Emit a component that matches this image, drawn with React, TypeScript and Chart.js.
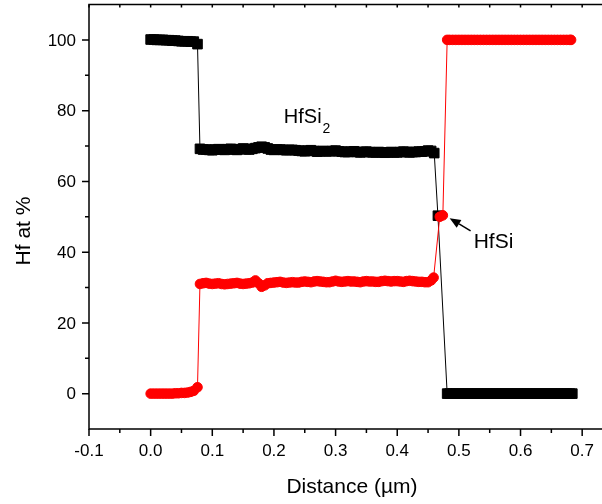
import React, { useEffect, useRef } from 'react';
import { Chart, registerables } from 'chart.js';

Chart.register(...registerables);

// ---- Data ----
// Black series (squares)
const blackDistance = [
  0, 0.005, 0.01, 0.015, 0.02, 0.025, 0.03, 0.035, 0.04, 0.045, 0.05, 0.055, 0.06, 0.065, 0.07, 0.076,
  0.08, 0.085, 0.09, 0.095, 0.1, 0.105, 0.11, 0.115, 0.12, 0.125, 0.13, 0.135, 0.14, 0.145,
  0.15, 0.155, 0.16, 0.165, 0.17, 0.175, 0.18, 0.185, 0.19, 0.195,
  0.2, 0.205, 0.21, 0.215, 0.22, 0.225, 0.23, 0.235, 0.24, 0.245,
  0.25, 0.255, 0.26, 0.265, 0.27, 0.275, 0.28, 0.285, 0.29, 0.295,
  0.3, 0.305, 0.31, 0.315, 0.32, 0.325, 0.33, 0.335, 0.34, 0.345,
  0.35, 0.355, 0.36, 0.365, 0.37, 0.375, 0.38, 0.385, 0.39, 0.395,
  0.4, 0.405, 0.41, 0.415, 0.42, 0.425, 0.43, 0.435, 0.44, 0.445,
  0.45, 0.455, 0.46,
  0.466,
  0.481, 0.485, 0.49, 0.495, 0.5, 0.505, 0.51, 0.515, 0.52, 0.525, 0.53, 0.535, 0.54, 0.545,
  0.55, 0.555, 0.56, 0.565, 0.57, 0.575, 0.58, 0.585, 0.59, 0.595,
  0.6, 0.605, 0.61, 0.615, 0.62, 0.625, 0.63, 0.635, 0.64, 0.645,
  0.65, 0.655, 0.66, 0.665, 0.67, 0.675, 0.68, 0.684,
];
const blackHf = [
  100.1, 100.1, 100, 100, 100, 99.9, 99.9, 99.8, 99.8, 99.7, 99.6, 99.6, 99.6, 99.5, 99.5, 98.8,
  69.2, 69.0, 69.0, 68.9, 68.8, 69.0, 69.1, 69.0, 68.9, 69.1, 69.2, 69.0, 68.9, 69.1,
  69.3, 69.1, 69.0, 69.2, 69.4, 69.6, 69.8, 69.6, 69.3, 69.0,
  68.9, 69.0, 69.0, 68.9, 68.8, 68.9, 68.9, 68.8, 68.7, 68.6,
  68.5, 68.7, 68.8, 68.6, 68.4, 68.5, 68.6, 68.5, 68.5, 68.6,
  68.7, 68.5, 68.4, 68.3, 68.3, 68.4, 68.5, 68.3, 68.2, 68.3,
  68.4, 68.3, 68.2, 68.2, 68.3, 68.2, 68.1, 68.2, 68.3, 68.2,
  68.2, 68.3, 68.4, 68.3, 68.2, 68.3, 68.3, 68.4, 68.4, 68.5,
  68.7, 68.6, 68.0,
  50.3,
  0, 0, 0, 0, 0, 0, 0, 0, 0, 0, 0, 0, 0, 0,
  0, 0, 0, 0, 0, 0, 0, 0, 0, 0,
  0, 0, 0, 0, 0, 0, 0, 0, 0, 0,
  0, 0, 0, 0, 0, 0, 0, 0,
];

// Red series (circles)
const redDistance = [
  0, 0.005, 0.01, 0.015, 0.02, 0.025, 0.03, 0.035, 0.04, 0.045, 0.05, 0.055, 0.06, 0.065, 0.07, 0.076,
  0.08, 0.085, 0.09, 0.095, 0.1, 0.105, 0.11, 0.115, 0.12, 0.125, 0.13, 0.135, 0.14, 0.145,
  0.15, 0.155, 0.16, 0.165, 0.17, 0.175, 0.18, 0.185, 0.19, 0.195,
  0.2, 0.205, 0.21, 0.215, 0.22, 0.225, 0.23, 0.235, 0.24, 0.245,
  0.25, 0.255, 0.26, 0.265, 0.27, 0.275, 0.28, 0.285, 0.29, 0.295,
  0.3, 0.305, 0.31, 0.315, 0.32, 0.325, 0.33, 0.335, 0.34, 0.345,
  0.35, 0.355, 0.36, 0.365, 0.37, 0.375, 0.38, 0.385, 0.39, 0.395,
  0.4, 0.405, 0.41, 0.415, 0.42, 0.425, 0.43, 0.435, 0.44, 0.445,
  0.45, 0.455, 0.459,
  0.469, 0.474,
  0.481, 0.485, 0.49, 0.495, 0.5, 0.505, 0.51, 0.515, 0.52, 0.525, 0.53, 0.535, 0.54, 0.545,
  0.55, 0.555, 0.56, 0.565, 0.57, 0.575, 0.58, 0.585, 0.59, 0.595,
  0.6, 0.605, 0.61, 0.615, 0.62, 0.625, 0.63, 0.635, 0.64, 0.645,
  0.65, 0.655, 0.66, 0.665, 0.67, 0.675, 0.68, 0.682,
];
const redHf = [
  0, 0, 0, 0, 0, 0, 0, 0, 0.1, 0.1, 0.2, 0.2, 0.3, 0.5, 0.8, 1.8,
  31.0, 31.2, 31.3, 31.1, 31.0, 31.1, 31.2, 31.0, 30.9, 31.0, 31.1, 31.2, 31.3, 31.1,
  31.0, 31.1, 31.2, 31.4, 32.0, 31.2, 30.2, 30.6, 31.2, 31.3,
  31.4, 31.5, 31.6, 31.4, 31.3, 31.4, 31.5, 31.4, 31.4, 31.6,
  31.7, 31.6, 31.5, 31.7, 31.8, 31.7, 31.6, 31.5, 31.5, 31.7,
  31.9, 31.7, 31.6, 31.7, 31.8, 31.7, 31.7, 31.6, 31.5, 31.7,
  31.8, 31.7, 31.7, 31.6, 31.6, 31.8, 31.9, 31.8, 31.7, 31.8,
  31.8, 31.7, 31.6, 31.8, 31.9, 31.8, 31.7, 31.6, 31.6, 31.5,
  31.5, 32.0, 32.8,
  50.0, 50.4,
  100, 100, 100, 100, 100, 100, 100, 100, 100, 100, 100, 100, 100, 100,
  100, 100, 100, 100, 100, 100, 100, 100, 100, 100,
  100, 100, 100, 100, 100, 100, 100, 100, 100, 100,
  100, 100, 100, 100, 100, 100, 100, 100,
];

// Axes
const xMin = -0.1;
const xMax = 0.75;
const yMin = -10;
const yMax = 110;
const xMajorTicks = [-0.1, 0.0, 0.1, 0.2, 0.3, 0.4, 0.5, 0.6, 0.7];
const xTickLabels = ['-0.1', '0.0', '0.1', '0.2', '0.3', '0.4', '0.5', '0.6', '0.7'];
const xMinorTicks = [-0.05, 0.05, 0.15, 0.25, 0.35, 0.45, 0.55, 0.65];
const yMajorTicks = [0, 20, 40, 60, 80, 100];
const yTickLabels = ['0', '20', '40', '60', '80', '100'];
const yMinorTicks = [10, 30, 50, 70, 90];
const xTitle = 'Distance (\u00b5m)';
const yTitle = 'Hf at %';

// Annotations (data coordinates)
const hfSi2Label = { x: 0.216, y: 76.6, text: 'HfSi', sub: '2' };
const hfSiLabel = { x: 0.524, y: 41.2, text: 'HfSi' };
const hfSiArrow = { fromX: 0.519, fromY: 46, toX: 0.485, toY: 49.6 };

const FONT = '"Liberation Sans", Arial, Helvetica, sans-serif';

const framePlugin = {
  id: 'originFrame',
  afterDraw(chart: any) {
    const { ctx, chartArea: a, scales } = chart;
    const xs = scales.x;
    const ys = scales.y;
    ctx.save();
    ctx.strokeStyle = '#000';
    ctx.fillStyle = '#000';
    ctx.lineWidth = 1.5;
    ctx.lineCap = 'butt';
    ctx.beginPath();
    ctx.moveTo(a.left, a.top);
    ctx.lineTo(a.right, a.top);
    ctx.lineTo(a.right, a.bottom);
    ctx.lineTo(a.left, a.bottom);
    ctx.closePath();
    ctx.stroke();

    ctx.beginPath();
    for (const v of xMajorTicks) {
      const px = xs.getPixelForValue(v);
      ctx.moveTo(px, a.bottom);
      ctx.lineTo(px, a.bottom + 7);
      ctx.moveTo(px, a.top);
      ctx.lineTo(px, a.top + 3);
    }
    for (const v of xMinorTicks) {
      const px = xs.getPixelForValue(v);
      ctx.moveTo(px, a.bottom);
      ctx.lineTo(px, a.bottom + 4);
      ctx.moveTo(px, a.top);
      ctx.lineTo(px, a.top + 3);
    }
    for (const v of yMajorTicks) {
      const py = ys.getPixelForValue(v);
      ctx.moveTo(a.left - 7, py);
      ctx.lineTo(a.left, py);
      ctx.moveTo(a.right, py);
      ctx.lineTo(a.right - 3, py);
    }
    for (const v of yMinorTicks) {
      const py = ys.getPixelForValue(v);
      ctx.moveTo(a.left - 4, py);
      ctx.lineTo(a.left, py);
      ctx.moveTo(a.right, py);
      ctx.lineTo(a.right - 3, py);
    }
    ctx.stroke();

    ctx.font = `17px ${FONT}`;
    ctx.textAlign = 'center';
    ctx.textBaseline = 'middle';
    xMajorTicks.forEach((v, i) => {
      ctx.fillText(xTickLabels[i], xs.getPixelForValue(v), a.bottom + 22);
    });
    ctx.textAlign = 'right';
    yMajorTicks.forEach((v, i) => {
      ctx.fillText(yTickLabels[i], a.left - 13, ys.getPixelForValue(v) + 1);
    });

    ctx.font = `21px ${FONT}`;
    ctx.textAlign = 'center';
    ctx.fillText(xTitle, 352, 487);
    ctx.save();
    ctx.translate(24, 231);
    ctx.rotate(-Math.PI / 2);
    ctx.fillText(yTitle, 0, 0);
    ctx.restore();

    ctx.textAlign = 'left';
    ctx.textBaseline = 'alphabetic';
    ctx.font = `20px ${FONT}`;
    const l1x = xs.getPixelForValue(hfSi2Label.x);
    const l1y = ys.getPixelForValue(hfSi2Label.y);
    ctx.fillText(hfSi2Label.text, l1x, l1y);
    const w1 = ctx.measureText(hfSi2Label.text).width;
    ctx.font = `14px ${FONT}`;
    ctx.fillText(hfSi2Label.sub, l1x + w1 + 1, l1y + 10);

    ctx.font = `21px ${FONT}`;
    ctx.fillText(hfSiLabel.text, xs.getPixelForValue(hfSiLabel.x), ys.getPixelForValue(hfSiLabel.y));

    const ax0 = xs.getPixelForValue(hfSiArrow.fromX);
    const ay0 = ys.getPixelForValue(hfSiArrow.fromY);
    const ax1 = xs.getPixelForValue(hfSiArrow.toX);
    const ay1 = ys.getPixelForValue(hfSiArrow.toY);
    const ang = Math.atan2(ay1 - ay0, ax1 - ax0);
    const headLen = 11;
    const headW = 4.5;
    const bx = ax1 - headLen * Math.cos(ang);
    const by = ay1 - headLen * Math.sin(ang);
    ctx.lineWidth = 1.5;
    ctx.beginPath();
    ctx.moveTo(ax0, ay0);
    ctx.lineTo(bx, by);
    ctx.stroke();
    ctx.beginPath();
    ctx.moveTo(ax1, ay1);
    ctx.lineTo(bx + headW * Math.sin(ang), by - headW * Math.cos(ang));
    ctx.lineTo(bx - headW * Math.sin(ang), by + headW * Math.cos(ang));
    ctx.closePath();
    ctx.fill();
    ctx.restore();
  },
};

export default function App() {
  const canvasRef = useRef<HTMLCanvasElement | null>(null);

  useEffect(() => {
    const canvas = canvasRef.current;
    if (!canvas) return;
    const chart = new Chart(canvas, {
      type: 'scatter',
      data: {
        datasets: [
          {
            label: 'red',
            data: redDistance.map((x, i) => ({ x, y: redHf[i] })),
            showLine: true,
            borderColor: '#ff0000',
            backgroundColor: '#ff0000',
            borderWidth: 1,
            pointStyle: 'circle',
            pointRadius: 4.8,
            pointBorderWidth: 1,
            pointBorderColor: '#ff0000',
            pointBackgroundColor: '#ff0000',
          },
          {
            label: 'black',
            data: blackDistance.map((x, i) => ({ x, y: blackHf[i] })),
            showLine: true,
            borderColor: '#000000',
            backgroundColor: '#000000',
            borderWidth: 1,
            pointStyle: 'rect',
            pointRadius: 6.8,
            pointBorderWidth: 1,
            pointBorderColor: '#000000',
            pointBackgroundColor: '#000000',
          },
        ],
      },
      options: {
        animation: false,
        responsive: false,
        maintainAspectRatio: false,
        devicePixelRatio: 1,
        events: [],
        layout: { autoPadding: false, padding: { left: 89, right: 1, top: 4.5, bottom: 75 } },
        plugins: {
          legend: { display: false },
          tooltip: { enabled: false },
          title: { display: false },
        },
        scales: {
          x: { type: 'linear', display: false, min: xMin, max: xMax },
          y: { type: 'linear', display: false, min: yMin, max: yMax },
        },
      },
      plugins: [framePlugin],
    });
    return () => chart.destroy();
  }, []);

  return (
    <div
      style={{
        position: 'fixed',
        left: 0,
        top: 0,
        width: 602,
        height: 504,
        overflow: 'hidden',
        background: '#fff',
      }}
    >
      <canvas ref={canvasRef} width={614} height={504} style={{ display: 'block' }} />
    </div>
  );
}
